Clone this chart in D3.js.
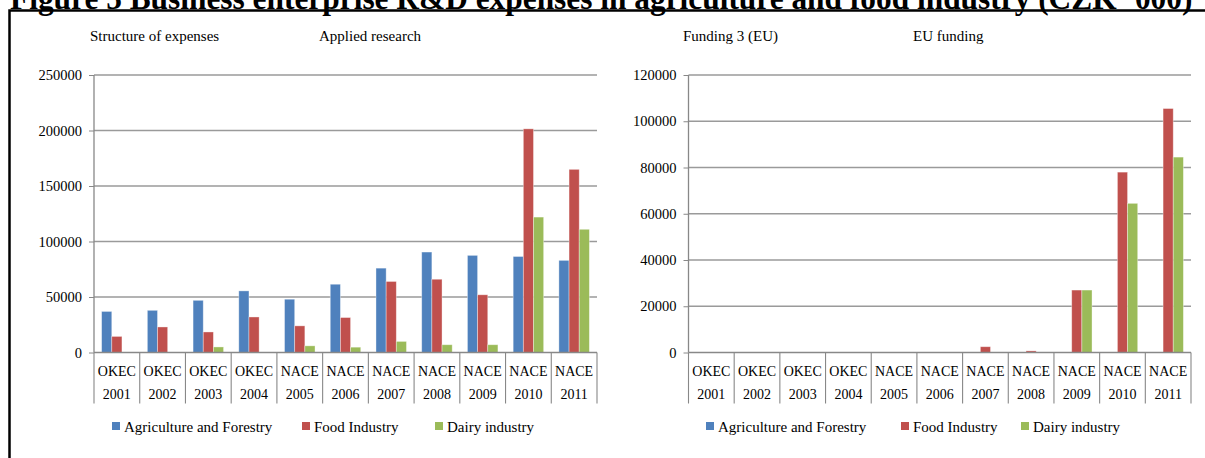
<!DOCTYPE html>
<html><head><meta charset="utf-8">
<script src="https://cdn.jsdelivr.net/npm/d3@7"></script>
<style>
html,body{margin:0;padding:0;background:#fff;overflow:hidden;}
text{font-family:"Liberation Serif","Times New Roman",serif;fill:#000;}
</style></head>
<body>
<svg id="c" width="1205" height="458"></svg>
<script>
// ---- data ----
const classification = ["OKEC","OKEC","OKEC","OKEC","NACE","NACE","NACE","NACE","NACE","NACE","NACE"];
const years = ["2001","2002","2003","2004","2005","2006","2007","2008","2009","2010","2011"];
const seriesNames = ["Agriculture and Forestry","Food Industry","Dairy industry"];
const seriesColors = ["#4F81BD","#C0504D","#9BBB59"];

// Applied research (left chart)
const appliedAgri  = [37000,38000,47000,55500,48000,61500,76000,90500,87500,86500,83000];
const appliedFood  = [14500,23000,18500,32000,24000,31500,64000,66000,52000,201500,165000];
const appliedDairy = [0,0,5000,0,6000,4800,10000,7000,7000,122000,111000];
const appliedTicks = [0,50000,100000,150000,200000,250000];

// EU funding (right chart)
const euAgri  = [0,0,0,0,0,0,0,0,0,0,0];
const euFood  = [0,0,0,0,0,0,2500,700,27000,78000,105500];
const euDairy = [0,0,0,0,0,0,0,0,27000,64500,84500];
const euTicks = [0,20000,40000,60000,80000,100000,120000];

const titleText = "Figure 5 Business enterprise R&D expenses in agriculture and food industry (CZK \u00B4000)";

const svg = d3.select("#c");

// title (clipped at the top as in the reference)
const title = svg.append("text").attr("x",10).attr("y",9)
  .style("font-weight","bold").style("font-size","24px").text(titleText);
const tw = title.node().getComputedTextLength();
title.style("font-size",(24*1183/tw)+"px");

// frame (left and top edges only)
svg.append("path").attr("d","M9.5,458 L9.5,10.5 L1205,10.5")
  .attr("fill","none").attr("stroke","#000").attr("stroke-width",2.5);

function drawChart(cfg){
  const g = svg.append("g");
  const x = d3.scaleBand().domain(years).range([cfg.x0,cfg.x1]);
  const y = d3.scaleLinear().domain([0,d3.max(cfg.ticks)]).range([cfg.y0,cfg.yTop]);
  const bw = x.bandwidth()/4.5;
  const xs = d3.scaleBand().domain(seriesNames).range([0.75*bw,3.75*bw]);

  // subtitles
  g.append("text").attr("x",cfg.sub1x).attr("y",41).style("font-size","15px").text(cfg.sub1);
  g.append("text").attr("x",cfg.sub2x).attr("y",41).style("font-size","15px").text(cfg.sub2);

  // gridlines
  g.selectAll(".grid").data(cfg.ticks.filter(t=>t>0)).join("line")
    .attr("x1",cfg.x0).attr("x2",cfg.x1).attr("y1",d=>y(d)).attr("y2",d=>y(d))
    .attr("stroke","#9a9a9a").attr("stroke-width",1.3);

  // y axis
  const ax = g.append("g").attr("transform",`translate(${cfg.x0},0)`)
    .call(d3.axisLeft(y).tickValues(cfg.ticks).tickSize(5).tickPadding(7).tickFormat(d3.format("d")));
  ax.select(".domain").remove();
  ax.selectAll("line").attr("stroke","#888");
  ax.selectAll("text").style("font-size","14.5px").style("font-family","'Liberation Serif',serif");

  // bars
  cfg.series.forEach((vals,si)=>{
    g.selectAll(".b"+si).data(vals.map((v,i)=>({v,yr:years[i]}))).join("rect")
      .attr("x",d=>x(d.yr)+xs(seriesNames[si]))
      .attr("width",xs.bandwidth())
      .attr("y",d=>y(d.v)).attr("height",d=>y(0)-y(d.v))
      .attr("fill",seriesColors[si])
      .attr("stroke","rgba(255,255,255,0.45)").attr("stroke-width",0.8);
  });

  // axis lines
  g.append("line").attr("x1",cfg.x0).attr("x2",cfg.x1).attr("y1",cfg.y0).attr("y2",cfg.y0)
    .attr("stroke","#888").attr("stroke-width",1.3);
  g.append("line").attr("x1",cfg.x0).attr("x2",cfg.x0).attr("y1",cfg.yTop).attr("y2",cfg.y0)
    .attr("stroke","#888").attr("stroke-width",1.3);
  // category separators
  const seps = years.map(yr=>x(yr)).concat([cfg.x1]);
  g.selectAll(".sep").data(seps).join("line")
    .attr("x1",d=>d).attr("x2",d=>d).attr("y1",cfg.y0).attr("y2",cfg.y0+51)
    .attr("stroke","#888").attr("stroke-width",1.1);
  // category labels
  g.selectAll(".c1").data(years).join("text")
    .attr("x",d=>x(d)+x.bandwidth()/2).attr("y",cfg.y0+23).attr("text-anchor","middle")
    .style("font-size","14px").text((d,i)=>classification[i]);
  g.selectAll(".c2").data(years).join("text")
    .attr("x",d=>x(d)+x.bandwidth()/2).attr("y",cfg.y0+46).attr("text-anchor","middle")
    .style("font-size","14px").text(d=>d);

  // legend
  seriesNames.forEach((s,i)=>{
    const lx = cfg.legendX[i];
    g.append("rect").attr("x",lx).attr("y",422).attr("width",8).attr("height",8).attr("fill",seriesColors[i]);
    g.append("text").attr("x",lx+12).attr("y",432).style("font-size","15px").text(s);
  });
}

drawChart({x0:94,x1:597,y0:352.5,yTop:75,ticks:appliedTicks,
  series:[appliedAgri,appliedFood,appliedDairy],
  sub1:"Structure of expenses",sub1x:90,sub2:"Applied research",sub2x:319,
  legendX:[112,302,435]});
drawChart({x0:688.5,x1:1191,y0:352.5,yTop:75,ticks:euTicks,
  series:[euAgri,euFood,euDairy],
  sub1:"Funding 3 (EU)",sub1x:683,sub2:"EU funding",sub2x:913,
  legendX:[706,901,1021]});
</script>
</body></html>
